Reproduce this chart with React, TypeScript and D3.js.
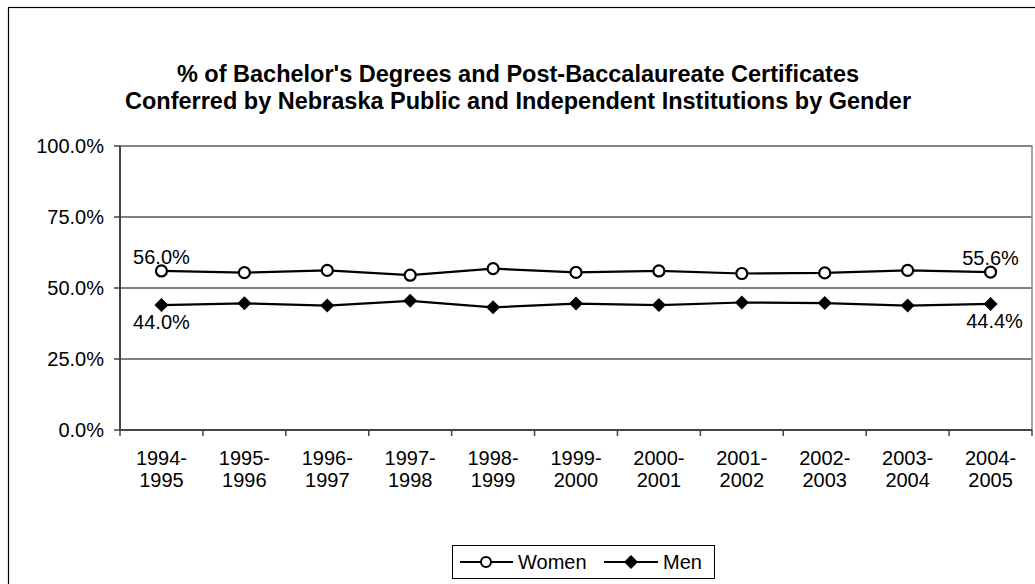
import React from "react";
import * as d3 from "d3";

const categories = ["1994-1995","1995-1996","1996-1997","1997-1998","1998-1999","1999-2000","2000-2001","2001-2002","2002-2003","2003-2004","2004-2005"];
const women = [56.0, 55.4, 56.2, 54.5, 56.8, 55.5, 56.0, 55.1, 55.3, 56.2, 55.6];
const men = [44.0, 44.6, 43.8, 45.5, 43.2, 44.5, 44.0, 44.9, 44.7, 43.8, 44.4];
const yTicks = [0, 25, 50, 75, 100];
const titleLines = [
  "% of Bachelor's Degrees and Post-Baccalaureate Certificates",
  "Conferred by Nebraska Public and Independent Institutions by Gender",
];

export default function App() {
  const W = 1035, H = 584;
  const left = 120, right = 1032, top = 146, bottom = 430;
  const x = d3.scaleBand<string>().domain(categories).range([left, right]);
  const y = d3.scaleLinear().domain([0, 100]).range([bottom, top]);
  const cx = (c: string) => (x(c) as number) + x.bandwidth() / 2;
  const line = d3.line<number>().x((_, i) => cx(categories[i])).y((d) => y(d));
  const font = "Liberation Sans, Arial, sans-serif";
  const diamond = (px: number, py: number, r: number) =>
    `M${px},${py - r}L${px + r},${py}L${px},${py + r}L${px - r},${py}Z`;
  const fmt = (v: number) => v.toFixed(1) + "%";
  const last = categories.length - 1;
  const fs = 20;

  return (
    <svg width={W} height={H} style={{ position: "absolute", left: 0, top: 0 }} fontFamily={font}>
      <rect x={0} y={0} width={W} height={H} fill="#fff" />
      <rect x={8.5} y={7.5} width={W + 10} height={H + 10} fill="none" stroke="#000" strokeWidth={1.2} />
      {titleLines.map((t, i) => (
        <text key={i} x={518} y={81.5 + i * 27} textAnchor="middle" fontSize={23.5} fontWeight="bold">{t}</text>
      ))}
      {/* gridlines */}
      {yTicks.filter((t) => t > 0).map((t) => (
        <line key={t} x1={left} x2={right} y1={y(t)} y2={y(t)} stroke="#000" strokeWidth={1} />
      ))}
      <rect x={left} y={top} width={right - left} height={bottom - top} fill="none" stroke="#888" strokeWidth={1.5} />
      {/* axes */}
      <line x1={left} x2={left} y1={top} y2={bottom} stroke="#444" strokeWidth={2} />
      <line x1={left} x2={right} y1={bottom} y2={bottom} stroke="#444" strokeWidth={2} />
      {yTicks.map((t) => (
        <g key={t}>
          <line x1={left - 6} x2={left} y1={y(t)} y2={y(t)} stroke="#444" strokeWidth={1.5} />
          <text x={left - 16} y={y(t) + 7} textAnchor="end" fontSize={fs}>{t.toFixed(1) + "%"}</text>
        </g>
      ))}
      {categories.map((c) => (
        <g key={c}>
          <line x1={x(c) as number} x2={x(c) as number} y1={bottom} y2={bottom + 6} stroke="#444" strokeWidth={1.5} />
          {c.split("-").map((p, j) => (
            <text key={j} x={cx(c)} y={465 + j * 22} textAnchor="middle" fontSize={fs}>{j === 0 ? p + "-" : p}</text>
          ))}
        </g>
      ))}
      <line x1={right} x2={right} y1={bottom} y2={bottom + 6} stroke="#444" strokeWidth={1.5} />
      {/* series */}
      <path d={line(women) || ""} fill="none" stroke="#000" strokeWidth={2.2} />
      <path d={line(men) || ""} fill="none" stroke="#000" strokeWidth={2.2} />
      {women.map((v, i) => (
        <circle key={i} cx={cx(categories[i])} cy={y(v)} r={5.5} fill="#fff" stroke="#000" strokeWidth={2.2} />
      ))}
      {men.map((v, i) => (
        <path key={i} d={diamond(cx(categories[i]), y(v), 7)} fill="#000" />
      ))}
      {/* labels */}
      <text x={cx(categories[0])} y={y(women[0]) - 7} textAnchor="middle" fontSize={fs}>{fmt(women[0])}</text>
      <text x={cx(categories[0])} y={y(men[0]) + 24} textAnchor="middle" fontSize={fs}>{fmt(men[0])}</text>
      <text x={cx(categories[last])} y={y(women[last]) - 7} textAnchor="middle" fontSize={fs}>{fmt(women[last])}</text>
      <text x={cx(categories[last]) + 4} y={y(men[last]) + 24} textAnchor="middle" fontSize={fs}>{fmt(men[last])}</text>
      {/* legend */}
      <rect x={452.5} y={545.5} width={262} height={33} fill="#fff" stroke="#000" strokeWidth={1} />
      <line x1={460} x2={513} y1={562} y2={562} stroke="#000" strokeWidth={2} />
      <circle cx={486} cy={562} r={5} fill="#fff" stroke="#000" strokeWidth={2} />
      <text x={518} y={569} fontSize={fs}>Women</text>
      <line x1={604} x2={658} y1={562} y2={562} stroke="#000" strokeWidth={2} />
      <path d={diamond(631, 562, 7)} fill="#000" />
      <text x={663} y={569} fontSize={fs}>Men</text>
    </svg>
  );
}
